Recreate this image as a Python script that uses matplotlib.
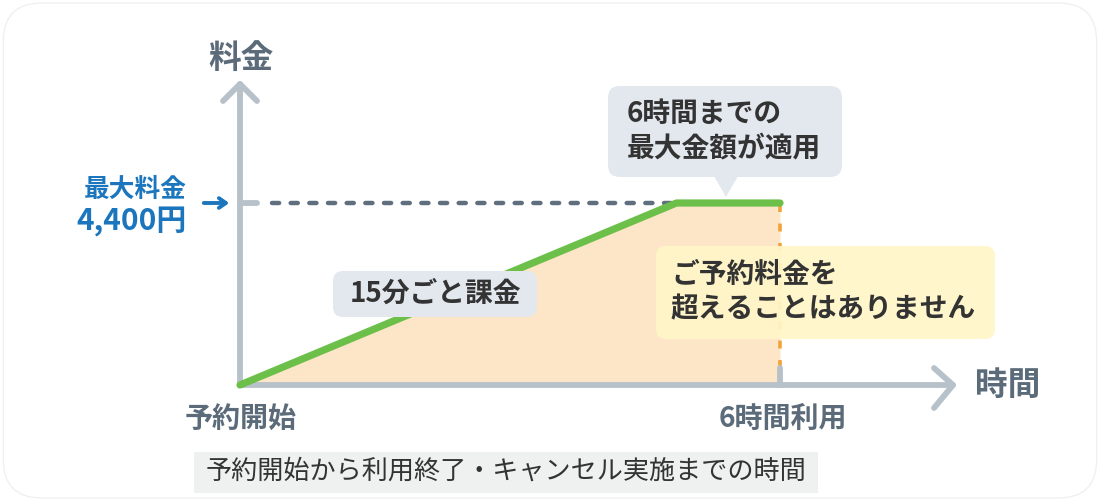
import matplotlib
matplotlib.use("Agg")
import matplotlib.pyplot as plt
from matplotlib.patches import FancyBboxPatch, Polygon

plt.rcParams['font.family'] = ['Noto Sans CJK JP', 'DejaVu Sans']

# data: hours vs fee (yen)
hours = [0, 4.85, 6]
fee = [0, 4400, 4400]
max_fee = 4400
use_hours = 6

axis_label_y = "料金"
axis_label_x = "時間"
max_label = "最大料金"
max_value_label = "4,400円"
start_label = "予約開始"
end_label = "6時間利用"
note_top = "6時間までの\n最大金額が適用"
note_slope = "15分ごと課金"
note_cap = "ご予約料金を\n超えることはありません"
caption = "予約開始から利用終了・キャンセル実施までの時間"

AXIS = "#b7c1ca"
LABEL = "#5b6b7a"
DARK = "#333333"
GREEN = "#6cc04a"
FILL = "#fde6c8"
ORANGE = "#f2a23a"
BLUE = "#1c76bd"

fig = plt.figure(figsize=(11, 5), dpi=100)
ax = fig.add_axes([0, 0, 1, 1])
# pixel 240 -> 0h, 90px per hour; pixel 385 -> 0 yen, 182px per 4400 yen
px_h = 90.0
px_y = 182.0 / 4400
ax.set_xlim(-240 / px_h, (1100 - 240) / px_h)
ax.set_ylim(-(500 - 385) / px_y, 385 / px_y)
ax.axis("off")

def X(px):
    return (px - 240) / px_h

def Y(py):
    return (385 - py) / px_y

# outer frame
frame = FancyBboxPatch((0.003, 0.004), 0.994, 0.99, boxstyle="round,pad=0,rounding_size=0.035",
                       transform=fig.transFigure, fc="none", ec="#f0f0f0", lw=1,
                       mutation_aspect=2.2)
fig.patches.append(frame)

# fill under the fee curve
ax.fill_between(hours, fee, 0, color=FILL, lw=0, zorder=1)

# dashed max line
ax.plot([X(272), hours[1]], [max_fee, max_fee], color="#5f6f7d", lw=3.2,
        dashes=(1.6, 2.6), dash_capstyle="round", zorder=2)

# orange dotted limit line
ax.plot([use_hours, use_hours], [Y(368), max_fee], color=ORANGE, lw=2.6,
        dashes=(2.2, 3.2), zorder=2)

# axes with chevrons
ax.plot([0, 0], [0, Y(84)], color=AXIS, lw=4.2, solid_capstyle="round", zorder=3)
ax.plot([X(223), 0, X(257)], [Y(101), Y(84), Y(101)], color=AXIS, lw=4.2,
        solid_capstyle="round", solid_joinstyle="round", zorder=3)
ax.plot([0, X(953)], [0, 0], color=AXIS, lw=4.2, solid_capstyle="round", zorder=3)
ax.plot([X(934), X(953), X(934)], [Y(368), 0, Y(408)], color=AXIS, lw=4.2,
        solid_capstyle="round", solid_joinstyle="round", zorder=3)
# ticks
ax.plot([0, X(257)], [max_fee, max_fee], color=AXIS, lw=4.2, solid_capstyle="round", zorder=3)
ax.plot([use_hours, use_hours], [0, Y(368)], color=AXIS, lw=4.2, solid_capstyle="round", zorder=3)

# fee curve
ax.plot(hours, fee, color=GREEN, lw=5.2, solid_capstyle="round", solid_joinstyle="round", zorder=4)

# axis labels
ax.text(X(241), Y(58), axis_label_y, fontsize=23.5, fontweight="bold", color=LABEL,
        ha="center", va="center")
ax.text(X(975), 0, axis_label_x, fontsize=23.5, fontweight="bold", color=LABEL,
        ha="left", va="center")
ax.text(X(241), Y(419), start_label, fontsize=20.2, fontweight="bold", color=LABEL,
        ha="center", va="center")
ax.text(X(783), Y(419), end_label, fontsize=20.2, fontweight="bold", color=LABEL,
        ha="center", va="center")

# max fee label with arrow
ax.text(X(187), Y(189), max_label, fontsize=18.5, fontweight="bold", color=BLUE,
        ha="right", va="center")
ax.text(X(187), Y(222), max_value_label, fontsize=21.5, fontweight="bold", color=BLUE,
        ha="right", va="center")
ax.annotate("", xy=(X(232), max_fee), xytext=(X(201), max_fee),
            arrowprops=dict(arrowstyle="->,head_length=0.5,head_width=0.35", color=BLUE, lw=2.8))

def box(x0, y0, x1, y1, fc, alpha=1.0, r=10):
    p = FancyBboxPatch((X(x0), Y(y1)), X(x1) - X(x0), Y(y0) - Y(y1),
                       boxstyle="round,pad=0,rounding_size=%f" % (r / px_h),
                       mutation_aspect=px_h / px_y,
                       fc=fc, ec="none", alpha=alpha, zorder=5)
    ax.add_patch(p)

# callout: 6時間までの
box(608, 86, 842, 177, "#e2e8ee", r=12)
ax.add_patch(Polygon([(X(714), Y(176)), (X(738), Y(176)), (X(726), Y(197))],
                     closed=True, fc="#e2e8ee", ec="none", zorder=5))
ax.text(X(627), Y(131), note_top, fontsize=20, fontweight="bold", color=DARK,
        ha="left", va="center", linespacing=1.3, zorder=6)

# callout: 15分ごと課金
box(333, 271, 537, 317, "#e2e8ee", r=10)
ax.text(X(435), Y(294), note_slope, fontsize=20, fontweight="bold", color=DARK,
        ha="center", va="center", zorder=6)

# callout: cap
box(656, 246, 995, 339, "#fff6c8", alpha=0.93, r=10)
ax.text(X(671), Y(292), note_cap, fontsize=20, fontweight="bold", color=DARK,
        ha="left", va="center", linespacing=1.3, zorder=6)

# caption
box(194, 452, 818, 493, "#eef1f0", r=0.01)
ax.text(X(506), Y(471), caption, fontsize=18.8, color=DARK,
        ha="center", va="center", zorder=6)

fig.savefig("out.png", dpi=100)
